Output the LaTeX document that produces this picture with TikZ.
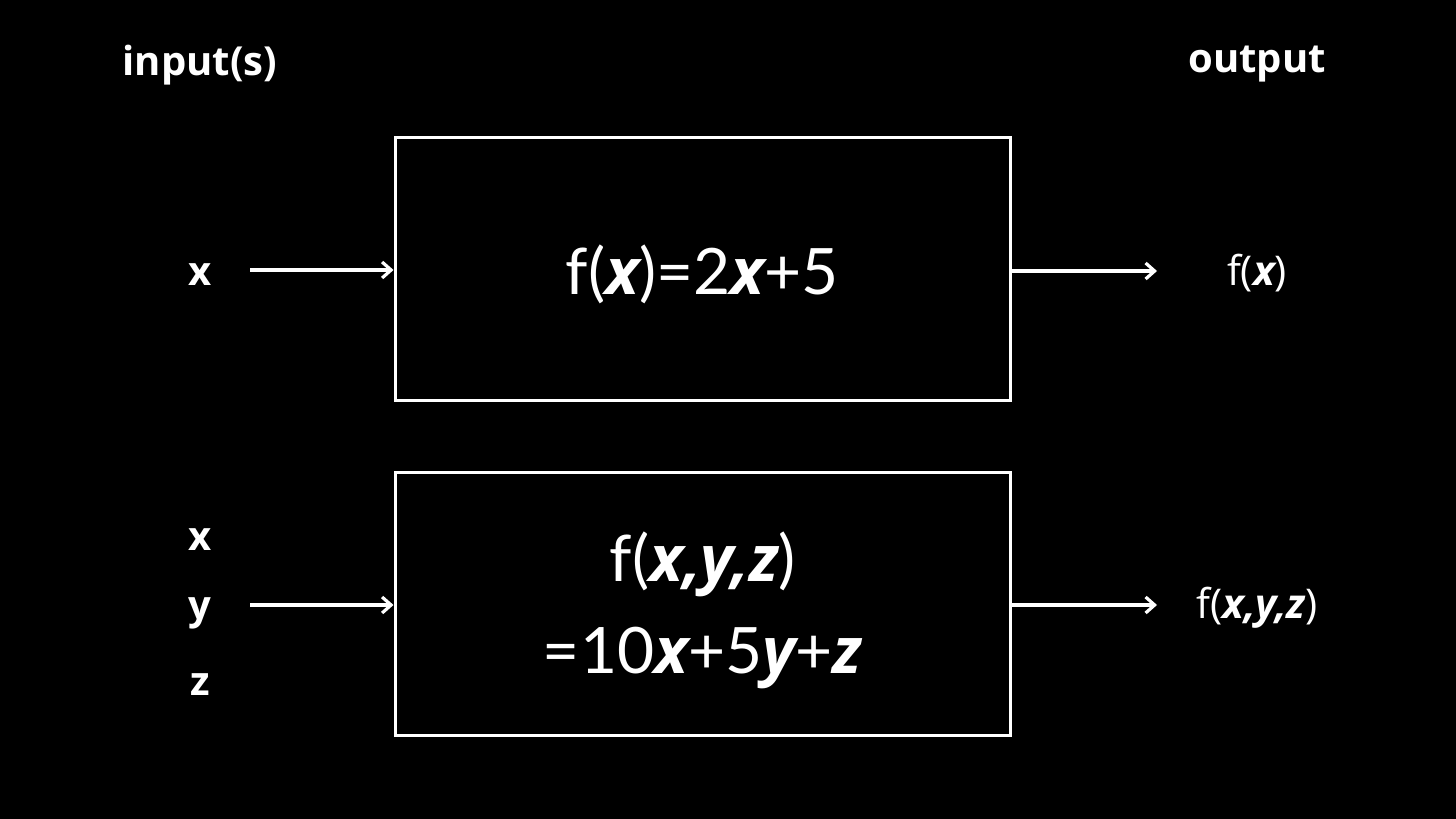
\documentclass[tikz,border=0pt]{standalone}
\usepackage{fontspec}
\setmainfont{Open Sans}
\newfontfamily\formfont{Lato}
\newfontfamily\varfont{Open Sans}
\usetikzlibrary{arrows.meta}
\newcommand\V[1]{{\varfont\bfseries\itshape #1}}
\begin{document}
\begin{tikzpicture}[x=0.5pt,y=-0.5pt,
  lbl/.style={text=white,font=\fontsize{20}{24}\selectfont\bfseries,inner sep=0pt},
  outlbl/.style={text=white,font=\fontsize{20.5}{24}\selectfont,inner sep=0pt},
  fbox/.style={draw=white,line width=1.5pt,minimum width=307.5pt,minimum height=131.5pt,inner sep=0pt},
  ftext/.style={text=white,align=center,font=\formfont\fontsize{32}{46}\selectfont,inner sep=0pt},
  arr/.style={draw=white,line width=1.6pt,-{Straight Barb[length=4.5pt,width=8pt,line width=1.6pt]}}]
\fill[black] (0,0) rectangle (1456,819);
\useasboundingbox (0,0) rectangle (1456,819);
\node[lbl] (inlbl) at (200,65) {input(s)};
\node[lbl] (outlbl) at (1257,64) {output};
\node[fbox] (b1) at (702.5,268.5) {};
\node[ftext] (t1) at (702.5,274) {f(\V{x})=2\V{x}+5};
\node[fbox] (b2) at (702.5,603.5) {};
\node[ftext] (t2) at (702.5,610) {f(\V{x,y,z})\\=10\V{x}+5\V{y}+\V{z}};
\node[lbl] (x1) at (200,275) {x};
\node[lbl] (x2) at (200,540) {x};
\node[lbl] (y2) at (200,613) {y};
\node[lbl] (z2) at (200,685) {z};
\node[outlbl] (o1) at (1257,273) {f(\V{x})};
\node[outlbl] (o2) at (1257,608) {f(\V{x,y,z})};
\coordinate (s1) at (250,270);
\coordinate (s2) at (250,605);
\coordinate (e1) at (1157,271);
\coordinate (e2) at (1157,605);
\draw[arr] (s1) -- (b1.west |- s1);
\draw[arr] (s2) -- (b2.west |- s2);
\draw[arr] (b1.east |- e1) -- (e1);
\draw[arr] (b2.east |- e2) -- (e2);
\end{tikzpicture}
\end{document}
